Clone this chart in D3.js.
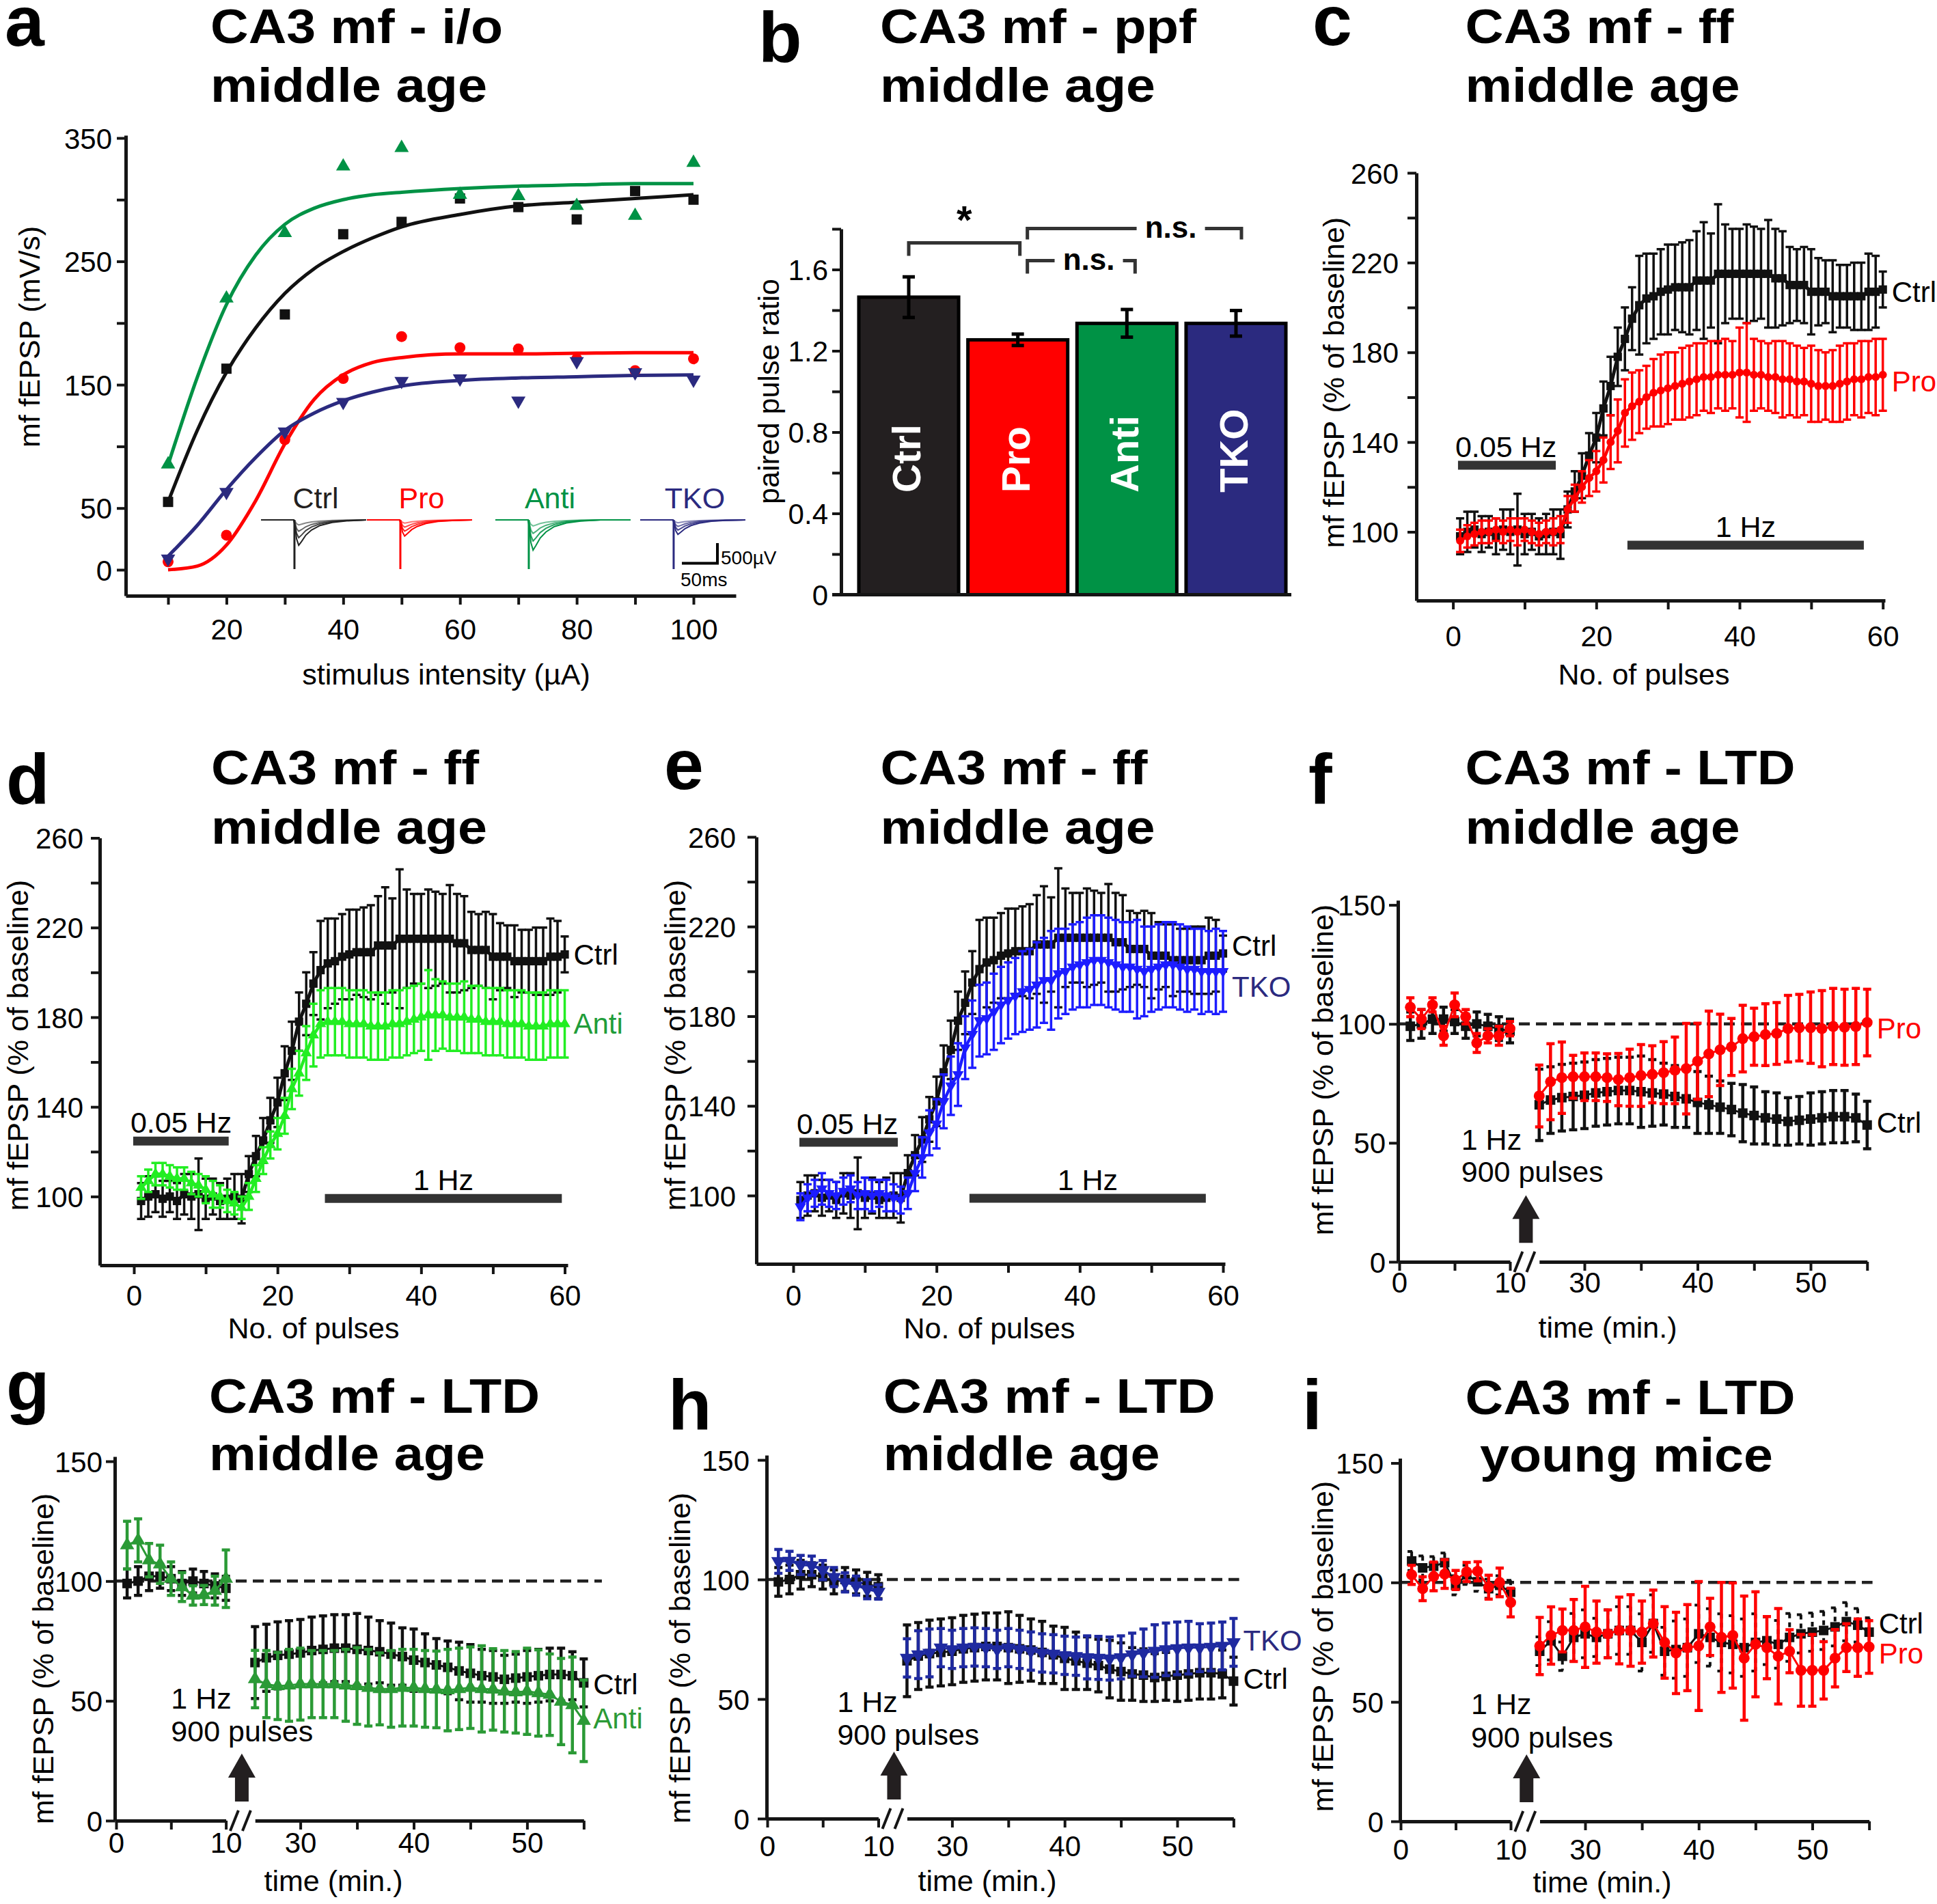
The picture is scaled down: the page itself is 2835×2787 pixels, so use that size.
<!DOCTYPE html>
<html lang="en">
<head>
<meta charset="UTF-8" />
<title>CA3 mossy fibre plasticity</title>
<script src="https://cdn.jsdelivr.net/npm/d3@7"></script>
<style>
  body { margin: 0; background: #fff; }
  svg text { font-family: "Liberation Sans", Arial, Helvetica, sans-serif; }
</style>
</head>
<body>
<div id="figure"></div>
<script>
// ---- a: input / output ----
const ioIntensity = [10, 20, 30, 40, 50, 60, 70, 80, 90, 100];
const ioCtrl = [55, 163, 207, 272, 282, 301, 294, 284, 307, 300];
const ioPro = [6.5, 28, 105.5, 155, 189, 180, 179, 171, 161.5, 171];
const ioAnti = [85.5, 220, 273, 327, 342, 304, 303, 295, 287, 330];
const ioTKO = [9, 63, 112, 136, 153, 155, 137, 169, 160, 154];
// fitted curves
const fitX = [10, 15, 20, 25, 30, 35, 40, 45, 50, 60, 70, 80, 90, 100];
const fitCtrl = [55, 113, 160, 196, 224, 244, 258, 269, 278, 288, 295, 298, 301, 304];
const fitPro = [0, 3, 20, 56, 102, 138, 158, 168, 172, 175, 175, 175.5, 176, 176];
const fitAnti = [85, 156, 215, 255, 280, 293, 300, 304, 306, 309, 311, 312, 313, 313];
const fitTKO = [11, 36, 65, 91, 113, 127, 137, 144, 149, 153.5, 155.5, 156.5, 157.5, 158];
// example traces in the inset
const traceGroups = ["Ctrl", "Pro", "Anti", "TKO"];
const traceDip = [630, 400, 750, 360];      // µV, largest response
const traceArtifact = 1220;                 // µV
const traceSteps = [0.2, 0.45, 0.7, 1];
const traceLen = [148, 148, 190, 148];      // ms
const traceShapeT = [0, 46, 48, 50, 53, 57, 63, 71, 83, 100, 120, 148];
const traceShapeV = [0, 0, 0.3, 0.75, 1, 0.85, 0.6, 0.4, 0.22, 0.1, 0.04, 0];

// ---- b: paired pulse ratio ----
const ppfGroups = ["Ctrl", "Pro", "Anti", "TKO"];
const ppfMean = [1.464, 1.254, 1.335, 1.335];
const ppfSem = [0.10, 0.028, 0.068, 0.063];

// ---- c, d, e: frequency facilitation ----
const pulses = [1,2,3,4,5,6,7,8,9,10,11,12,13,14,15,16,17,18,19,20,21,22,23,24,25,26,27,28,29,30,
  31,32,33,34,35,36,37,38,39,40,41,42,43,44,45,46,47,48,49,50,51,52,53,54,55,56,57,58,59,60];
const ffCtrl = [98,100,101,99,100,98,101,100,101,99, 100,98,99,100,99,110,118,125,134,142,
  155,165,178,186,195,201,204,205,207,208, 209,209,209,212,212,212,215,215,215,215,
  215,215,215,215,213,213,210,210,210,207, 207,207,205,205,205,205,205,207,207,208];
const ffCtrlErr = [8,9,8,8,7,8,9,10,16,9, 8,8,9,10,11,8,9,10,10,11, 12,13,13,14,14,22,20,19,19,20,
  19,20,21,22,26,21,31,22,20,20, 22,21,20,24,22,21,17,16,17,19, 15,14,16,14,14,15,15,17,16,8];
const ffPro = [96,98,99,100,100,101,100,101,100,101, 100,99,100,100,101,110,115,120,124,127,
  132,140,145,153,156,158,160,162,163,164, 165,166,167,168,169,169,170,170,170,171,
  171,170,170,169,169,168,168,167,167,166, 165,165,165,166,167,168,168,169,169,170];
const ffProErr = [5,5,5,5,5,5,5,5,6,5, 5,5,5,6,6,6,6,7,8,9, 10,12,14,15,15,14,14,15,16,16,
  15,16,16,16,15,16,15,16,15,20, 22,16,15,15,16,17,16,16,15,17, 16,15,16,17,17,16,17,16,17,16];
const ffAnti = [104,107,110,110,109,108,108,106,105,103, 101,100,98,97,95,100,108,116,123,128,
  136,148,155,164,172,177,178,178,178,177, 177,177,176,176,176,177,177,178,179,180,
  181,181,181,180,180,180,179,179,178,178, 178,177,177,177,176,176,176,177,177,177];
const ffAntiErr = [5,5,5,5,5,5,5,5,5,6, 6,5,5,5,5,6,6,6,6,7, 8,9,10,12,14,15,15,15,15,15,
  15,15,15,15,15,15,15,15,15,15, 20,16,15,15,15,16,15,15,15,15, 15,15,15,15,15,15,15,15,15,15];
const ffTKO = [95,99,101,103,101,100,102,103,100,101, 100,101,100,99,98,101,110,117,128,132,
  142,149,154,166,172,178,179,182,185,187, 189,191,192,194,196,196,199,200,202,203,
  204,205,205,204,203,202,202,201,200,201, 202,203,203,202,201,201,200,200,200,200];
const ffTKOErr = [6,6,6,7,6,6,6,6,6,7, 7,6,7,6,6,7,8,9,10,11, 12,13,14,14,15,16,16,17,17,17,
  17,18,18,19,19,22,20,19,19,19, 20,20,20,20,20,20,20,22,20,19, 19,19,19,19,19,18,19,18,19,18];

// ---- f, g, h, i: LTD ----
const ltdBaseT = [1,2,3,4,5,6,7,8,9,10];
const ltdPostT = [26,27,28,29,30,31,32,33,34,35,36,37,38,39,40,41,42,43,44,45,46,47,48,49,50,51,52,53,54,55];
const ctrlLtdBase = [99,100,102,102,101,99,100,99,98,97];
const ctrlLtdBaseErr = [6,6,6,5,5,5,5,5,5,5];
const ctrlLtdPost = [66,68,69,69.5,70,71,71.5,72,72,71.5, 71,70.5,69.5,68.5,67,66,65,64,62.5,61.5,
  60.5,60,59,59.5,60,60.5,61,61,60.5,57.5];
const ctrlLtdPostErr = [15,14,14,14,14,14,14,14,14,15, 14,13,13,12,13,12,11,11,12,12, 11,11,10,10,11,11,11,11,10,10];
const proLtdBase = [107,102,108,95,108,103,92,95,95,98];
const proLtdBaseErr = [4,4,3,4,5,3,4,3,4,3];
const proLtdPost = [69.7,75.7,77.4,77.8,77.8,77.8,77.4,76.6,77.4,78.3, 78.8,79.5,80.5,81.2,84.3,87.4,89.1,90.3,93.8,94.6,
  95.5,96,98,98.4,98.4,98,98.9,98.6,98.9,100.6];
const proLtdPostErr = [13,16,15,9,10,10,10,11,12,13, 12,13,14,19,16,18,15,12,14,12, 13,13,14,14,15,16,16,16,16,14];
const antiLtdBase = [115,117,108.7,107,101,97.5,94,94.2,96,101];
const antiLtdBaseErr = [10,9,7,8,7,6,4,4,6,12];
const antiLtdPost = [59.1,57,56.2,56.5,57,57,57,57,56.5,56.2, 55.5,55,55,55.5,55.5,55,54.8,54.5,55,55.5,
  55,54.8,54,53.6,54,53.3,52.6,49.7,48.3,41.7];
const antiLtdPostErr = [12,14,14,15,15,14,14,14,15,16, 16,15,16,16,16,16,16,17,17,17, 18,17,17,17,18,18,17,18,20,17];
const tkoLtdBase = [107.6,107.8,106.1,105.8,103.9,101,98.8,97.4,95.9,94.8];
const tkoLtdBaseErr = [5,4,4,4,4,4,4,4,4,3];
const tkoLtdPost = [67.2,68.6,69.3,71.5,70.8,71.5,71.8,71.5,70.8,71.5, 70.8,70.1,69.3,68.9,68.3,67.9,67.4,67.2,66.9,67.4,
  68.6,69.3,70.1,70.8,71.2,71.5,71.5,71.8,72.2,73.7];
const tkoLtdPostErr = [8,10,10,8,8,8,8,8,8,8, 8,8,8,8,8,8,9,9,9,9, 9,10,11,11,11,11,10,10,10,10];
const ctrlYoungBase = [109,106.1,106.8,108.3,98.8,103.2,100.3,97.4,98.8,95.9];
const ctrlYoungBaseErr = [4,5,4,4,4,4,4,4,4,5];
const ctrlYoungPost = [71.2,75.6,69.1,77,78.5,77,78.5,79.9,79.9,74.9, 82.8,71.2,71.9,72.7,78.5,77,74.9,74.1,72.7,74.9,
  75.6,74.1,77,78.5,79.2,79.9,81.4,83.6,82.1,79.2];
const ctrlYoungPostErr = [6,8,6,10,10,8,10,10,10,12, 12,10,12,12,12,12,12,12,12,12, 10,10,10,8,8,8,8,8,7,6];
const proYoungBase = [103.2,97.4,102.5,103.5,101,104.4,104.7,98,100,91.6];
const proYoungBaseErr = [4,5,6,6,4,4,4,5,6,6];
const proYoungPost = [73.4,77.8,79.9,79.9,81.4,79.2,78.5,79.9,79.9,79.2, 82.8,74.9,70.5,72.7,73.4,81.4,77,77.8,68.3,74.1,
  72.7,69.1,71.2,63.2,63.2,63.2,68.3,72.7,72.7,73];
const proYoungPostErr = [12,12,9,13,17,13,10,14,15,13, 14,15,17,18,27,12,23,22,26,22, 13,20,9,15,15,12,12,10,12,11];

// ---------- drawing ----------
const W = 2835, H = 2787;
const ink = "#151515";
const FONT = '"Liberation Sans", Arial, sans-serif';
const col = {
  ctrl: "#111111", pro: "#ff0000", anti: "#009245", lime: "#22ee22", antiG: "#2b9a36",
  tko: "#2b2a7f", blue: "#1c1cff", tkoH: "#1f2aa0"
};

const svg = d3.select("#figure").append("svg").attr("width", W).attr("height", H);
svg.append("rect").attr("width", W).attr("height", H).attr("fill", "#fff");

function addText(x, y, s, size, o = {}) {
  const t = svg.append("text").attr("x", x).attr("y", y)
    .attr("font-size", size).attr("fill", o.fill || "#000")
    .attr("text-anchor", o.anchor || "start").text(s);
  if (o.bold) t.attr("font-weight", "bold");
  if (o.len) t.attr("textLength", o.len).attr("lengthAdjust", "spacingAndGlyphs");
  if (o.mid) t.attr("dominant-baseline", "central");
  return t;
}
function addVText(cx, cy, s, size) {
  svg.append("text").attr("transform", `translate(${cx},${cy}) rotate(-90)`)
    .attr("text-anchor", "middle").attr("dominant-baseline", "central")
    .attr("font-size", size).text(s);
}
function heading(letter, lx, ly, x, y1, y2, l1, w1, l2, w2, x2) {
  addText(lx, ly, letter, 104, { bold: true });
  addText(x, y1, l1, 70, { bold: true, len: w1 });
  addText(x2 ?? x, y2, l2, 70, { bold: true, len: w2 });
}
function styleAxis(g) {
  g.select(".domain").attr("stroke", ink).attr("stroke-width", 5);
  g.selectAll(".tick line").attr("stroke", ink).attr("stroke-width", 4);
  g.selectAll(".tick text").attr("font-size", 42).attr("fill", "#000").attr("font-family", FONT);
}
function bottomAxis(scale, y, from, to, ticks, fmt, textY) {
  const s = scale.copy().domain([scale.invert(from), scale.invert(to)]).range([from, to]);
  const g = svg.append("g").attr("transform", `translate(0,${y})`)
    .call(d3.axisBottom(s).tickValues(ticks).tickSize(13).tickSizeOuter(0).tickFormat(fmt));
  styleAxis(g);
  g.selectAll(".tick text").attr("y", textY).attr("dy", 0);
}
function leftAxis(scale, x, from, to, ticks, fmt, textX) {
  const s = scale.copy().domain([scale.invert(from), scale.invert(to)]).range([from, to]);
  const g = svg.append("g").attr("transform", `translate(${x},0)`)
    .call(d3.axisLeft(s).tickValues(ticks).tickSize(13).tickSizeOuter(0).tickFormat(fmt));
  styleAxis(g);
  g.selectAll(".tick text").attr("x", -textX).attr("dy", "0.36em");
}
function drawSeries(xs, ys, t, m, e, st) {
  const pts = t.map((v, i) => ({ x: xs(v), y: ys(m[i]), hi: ys(m[i] + e[i]), lo: ys(m[i] - e[i]) }));
  const cap = st.cap || 6;
  const g = svg.append("g");
  g.append("path").attr("d", d3.line().x(d => d.x).y(d => d.y)(pts))
    .attr("fill", "none").attr("stroke", st.color).attr("stroke-width", st.lw || 3);
  g.selectAll(".eb").data(pts).join("path").attr("class", "eb")
    .attr("d", d => `M${d.x},${d.hi}V${d.lo}M${d.x - cap},${d.hi}H${d.x + cap}M${d.x - cap},${d.lo}H${d.x + cap}`)
    .attr("fill", "none").attr("stroke", st.color).attr("stroke-width", st.ebw || 3.5)
    .attr("stroke-dasharray", st.dash || null);
  g.selectAll(".mk").data(pts).join("path").attr("class", "mk")
    .attr("d", d3.symbol().type(st.shape).size(st.size))
    .attr("transform", d => `translate(${d.x},${d.y})${st.flip ? " rotate(180)" : ""}`)
    .attr("fill", st.color);
}

// ================= panel a =================
heading("a", 7, 67, 308, 63, 149, "CA3 mf - i/o", 428, "middle age", 405);
{
  const x = d3.scaleLinear([10, 100], [246, 1015]);
  const y = d3.scaleLinear([0, 350], [834, 202]);
  bottomAxis(x, 872, 184, 1077, ioIntensity, d => d % 20 === 0 ? d : "", 64);
  leftAxis(y, 184, 872, 198, [0, 50, 100, 150, 200, 250, 300, 350], d => (d / 50) % 2 === 1 || d === 0 ? d : "", 20);
  addVText(43, 493, "mf fEPSP (mV/s)", 43);
  addText(653, 1002, "stimulus intensity (µA)", 43, { anchor: "middle" });

  const fits = [[fitAnti, col.anti], [fitCtrl, col.ctrl], [fitPro, col.pro], [fitTKO, col.tko]];
  fits.forEach(([v, c]) => {
    svg.append("path").attr("d", d3.line().curve(d3.curveMonotoneX).x((d, i) => x(fitX[i])).y(d => y(d))(v))
      .attr("fill", "none").attr("stroke", c).attr("stroke-width", 5);
  });
  const sets = [
    [ioCtrl, col.ctrl, d3.symbolSquare, 225, false],
    [ioPro, col.pro, d3.symbolCircle, 200, false],
    [ioAnti, col.anti, d3.symbolTriangle, 190, false],
    [ioTKO, col.tko, d3.symbolTriangle, 190, true]
  ];
  sets.forEach(([v, c, shape, size, flip]) => {
    svg.append("g").selectAll("path").data(v).join("path")
      .attr("d", d3.symbol().type(shape).size(size))
      .attr("transform", (d, i) => `translate(${x(ioIntensity[i])},${y(d)})${flip ? " rotate(180)" : ""}`)
      .attr("fill", c);
  });

  // inset with example traces
  const traceCol = ["#222", col.pro, col.anti, col.tko];
  const spikeX = [432, 587, 775, 987];
  const v = d3.scaleLinear([0, -1000], [761, 820]);
  traceGroups.forEach((name, gi) => {
    const t = d3.scaleLinear([0, 150], [spikeX[gi] - 48 * 1.04, spikeX[gi] + 102 * 1.04]);
    addText(spikeX[gi] + 30, 744, name, 43, { anchor: "middle", fill: gi === 0 ? "#231f20" : traceCol[gi] });
    traceSteps.forEach((k, si) => {
      const pts = traceShapeT.map((tt, i) => [t(tt), v(-traceShapeV[i] * traceDip[gi] * k)]);
      pts.push([t(traceLen[gi]), v(0)]);
      svg.append("path").attr("d", d3.line()(pts)).attr("fill", "none")
        .attr("stroke", traceCol[gi]).attr("stroke-width", 2).attr("opacity", 0.55 + 0.15 * si);
    });
    svg.append("line").attr("x1", t(47)).attr("x2", t(47)).attr("y1", v(0)).attr("y2", v(-traceArtifact))
      .attr("stroke", traceCol[gi]).attr("stroke-width", 3);
  });
  svg.append("path").attr("d", "M998,824.5H1050V795").attr("fill", "none").attr("stroke", "#000").attr("stroke-width", 4);
  addText(1055, 826, "500µV", 28);
  addText(996, 858, "50ms", 28);
}

// ================= panel b =================
heading("b", 1110, 90, 1288, 63, 149, "CA3 mf - ppf", 463, "middle age", 403);
{
  const y = d3.scaleLinear([0, 1.8], [870.5, 335]);
  const x = d3.scaleBand(ppfGroups, [1249, 1890]).paddingInner(0.085).paddingOuter(0.05);
  const barCol = ["#231f20", col.pro, col.anti, col.tko];
  svg.append("g").selectAll("rect").data(ppfMean).join("rect")
    .attr("x", (d, i) => x(ppfGroups[i])).attr("width", x.bandwidth())
    .attr("y", d => y(d)).attr("height", d => y(0) - y(d))
    .attr("fill", (d, i) => barCol[i]).attr("stroke", "#000").attr("stroke-width", 5);
  svg.append("g").selectAll("path").data(ppfMean).join("path")
    .attr("d", (d, i) => {
      const cx = x(ppfGroups[i]) + x.bandwidth() / 2, hi = y(d + ppfSem[i]), lo = y(d - ppfSem[i]);
      return `M${cx},${hi}V${lo}M${cx - 9},${hi}H${cx + 9}M${cx - 9},${lo}H${cx + 9}`;
    })
    .attr("stroke", "#000").attr("stroke-width", 5).attr("fill", "none");
  ppfGroups.forEach(gn => {
    svg.append("text").attr("transform", `translate(${x(gn) + x.bandwidth() / 2 + 17},721) rotate(-90)`)
      .attr("font-size", 58).attr("font-weight", "bold").attr("fill", "#fff").text(gn);
  });
  leftAxis(y, 1231, 870.5, 335, [0, 0.2, 0.4, 0.6, 0.8, 1.0, 1.2, 1.4, 1.6, 1.8],
    d => Math.round(d * 10) % 4 === 0 ? (d === 0 ? "0" : d.toFixed(1)) : "", 19);
  svg.append("line").attr("x1", 1218).attr("x2", 1890).attr("y1", 870.5).attr("y2", 870.5)
    .attr("stroke", ink).attr("stroke-width", 5);
  addVText(1125, 573, "paired pulse ratio", 43);

  const c = g => x(g) + x.bandwidth() / 2;
  const brackets = [
    { a: c("Ctrl"), b: c("Pro") + 3, top: 1.731, foot: 1.667, label: "*", at: 0.5 },
    { a: c("Pro") + 14, b: c("Anti") + 12, top: 1.644, foot: 1.58, label: "n.s.", at: 0.57 },
    { a: c("Pro") + 14, b: c("TKO") + 8, top: 1.802, foot: 1.748, label: "n.s.", at: 0.67 }
  ];
  brackets.forEach(br => {
    svg.append("path").attr("d", `M${br.a},${y(br.foot)}V${y(br.top)}H${br.b}V${y(br.foot)}`)
      .attr("fill", "none").attr("stroke", "#333").attr("stroke-width", 5);
    const lx = br.a + (br.b - br.a) * br.at;
    if (br.label === "*") {
      addText(lx, y(br.top) - 14, "*", 58, { bold: true, anchor: "middle" });
    } else {
      svg.append("rect").attr("x", lx - 50).attr("y", y(br.top) - 8).attr("width", 100).attr("height", 16).attr("fill", "#fff");
      addText(lx, y(br.top) + 14, "n.s.", 44, { bold: true, anchor: "middle" });
    }
  });
}

// ================= panels c, d, e =================
const ffTicksY = [100, 120, 140, 160, 180, 200, 220, 240, 260];
const ffTicksX = [0, 10, 20, 30, 40, 50, 60];
function ffPanel(p) {
  const x = d3.scaleLinear([0, 60], [p.x0, p.x60]);
  const y = d3.scaleLinear([100, 260], [p.y100, p.y260]);
  bottomAxis(x, p.axisY, p.axisX, p.axisRight, ffTicksX, d => d % 20 === 0 ? d : "", p.xTextY);
  leftAxis(y, p.axisX, p.axisY, p.y260, ffTicksY, d => (d - 100) % 40 === 0 ? d : "", p.yTextX);
  addVText(p.ylab[0], p.ylab[1], "mf fEPSP (% of baseline)", 43);
  addText(p.xlab[0], p.xlab[1], "No. of pulses", 43, { anchor: "middle" });
  p.stim.forEach(s => {
    svg.append("line").attr("x1", x(s.from)).attr("x2", x(s.to)).attr("y1", y(s.level)).attr("y2", y(s.level))
      .attr("stroke", "#333").attr("stroke-width", 13);
    const tx = s.anchor === "start" ? x(s.from) - 4 : (x(s.from) + x(s.to)) / 2;
    addText(tx, y(s.level) - 12, s.label, 43, { anchor: s.anchor });
  });
  p.series.forEach(s => drawSeries(x, y, pulses, s.m, s.e, s.st));
  p.labels.forEach(l => addText(x(60) + 13, y(l.v), l.t, 42, { fill: l.c, mid: true }));
}
const stCtrlFF = { color: col.ctrl, shape: d3.symbolSquare, size: 150, lw: 5 };

heading("c", 1921, 66, 2144.5, 63, 149, "CA3 mf - ff", 393, "middle age", 402);
ffPanel({
  x0: 2126.6, x60: 2755.7, y100: 778.5, y260: 253, axisX: 2073, axisY: 879, axisRight: 2759,
  xTextY: 67, yTextX: 26, ylab: [1952, 560], xlab: [2406, 1002],
  stim: [{ label: "0.05 Hz", from: 0.7, to: 14.35, level: 129.7, anchor: "start" },
         { label: "1 Hz", from: 24.35, to: 57.35, level: 94.1, anchor: "middle" }],
  series: [{ m: ffCtrl, e: ffCtrlErr, st: stCtrlFF },
           { m: ffPro, e: ffProErr, st: { color: col.pro, shape: d3.symbolCircle, size: 110, lw: 4.5 } }],
  labels: [{ t: "Ctrl", v: 207, c: "#000" }, { t: "Pro", v: 167, c: col.pro }]
});

heading("d", 9, 1176, 309, 1148, 1235, "CA3 mf - ff", 392, "middle age", 404);
ffPanel({
  x0: 196, x60: 826.5, y100: 1751.4, y260: 1226.5, axisX: 146, axisY: 1852, axisRight: 831,
  xTextY: 59, yTextX: 24, ylab: [26, 1530], xlab: [459, 1959],
  stim: [{ label: "0.05 Hz", from: -0.1, to: 13.2, level: 124.7, anchor: "start" },
         { label: "1 Hz", from: 26.6, to: 59.6, level: 99.1, anchor: "middle" }],
  series: [{ m: ffCtrl, e: ffCtrlErr, st: stCtrlFF },
           { m: ffAnti, e: ffAntiErr, st: { color: col.lime, shape: d3.symbolTriangle, size: 120, lw: 4.5 } }],
  labels: [{ t: "Ctrl", v: 208, c: "#000" }, { t: "Anti", v: 177, c: "#1f9d3a" }]
});

heading("e", 972, 1155, 1288.5, 1148, 1235, "CA3 mf - ff", 391, "middle age", 402);
ffPanel({
  x0: 1161, x60: 1790, y100: 1750, y260: 1225, axisX: 1107, axisY: 1850, axisRight: 1793,
  xTextY: 61, yTextX: 30, ylab: [988, 1530], xlab: [1448, 1959],
  stim: [{ label: "0.05 Hz", from: 0.86, to: 14.6, level: 123.8, anchor: "start" },
         { label: "1 Hz", from: 24.6, to: 57.6, level: 98.8, anchor: "middle" }],
  series: [{ m: ffCtrl, e: ffCtrlErr, st: stCtrlFF },
           { m: ffTKO, e: ffTKOErr, st: { color: col.blue, shape: d3.symbolTriangle, size: 120, flip: true, lw: 4.5 } }],
  labels: [{ t: "Ctrl", v: 211.4, c: "#000" }, { t: "TKO", v: 193, c: col.tko }]
});

// ================= panels f, g, h, i =================
function ltdPanel(p) {
  const s1 = d3.scaleLinear([0, 10], [p.x0, p.x10]);
  const s2 = d3.scaleLinear([30, 50], [p.x30, p.x50]);
  const y = d3.scaleLinear([0, 150], [p.y0, p.y150]);
  svg.append("line").attr("x1", s1(0)).attr("x2", s2(p.dashEnd)).attr("y1", y(100)).attr("y2", y(100))
    .attr("stroke", "#222").attr("stroke-width", 4.5).attr("stroke-dasharray", "16 9");
  bottomAxis(s1, p.y0, p.yAxisX, s1(10), [0, 5, 10], d => d % 10 === 0 ? d : "", p.xTextY);
  bottomAxis(s2, p.y0, s2(26), s2(55), [30, 35, 40, 45, 50, 55], d => d % 10 === 0 ? d : "", p.xTextY);
  leftAxis(y, p.yAxisX, p.y0, y(152), [0, 50, 100, 150], d => d, p.yTextX);
  const gx = (s1(10) + s2(26)) / 2;
  [-9, 9].forEach(o => svg.append("line").attr("x1", gx + o - 6).attr("y1", p.y0 + 15)
    .attr("x2", gx + o + 6).attr("y2", p.y0 - 15).attr("stroke", ink).attr("stroke-width", 4));
  const ax = gx + 2;
  svg.append("path").attr("d",
    `M${ax},${y(28)}L${ax + 20},${y(18)}H${ax + 10}V${y(8)}H${ax - 10}V${y(18)}H${ax - 20}Z`)
    .attr("fill", "#231f20");
  addText(s1(p.textT), y(p.textY[0]), "1 Hz", 43);
  addText(s1(p.textT), y(p.textY[1]), "900 pulses", 43);
  addVText(p.ylab[0], p.ylab[1], "mf fEPSP (% of baseline)", 43);
  addText(p.xlab[0], p.xlab[1], "time (min.)", 43, { anchor: "middle" });
  p.series.forEach(s => {
    drawSeries(s1, y, ltdBaseT, s.base, s.baseErr, s.st);
    drawSeries(s2, y, ltdPostT, s.post, s.postErr, s.st);
  });
  p.labels.forEach(l => addText(s2(55) + 14, y(l.v) + (l.dy || 0), l.t, 42, { fill: l.c, mid: true }));
}
const ctrlLtd = { base: ctrlLtdBase, baseErr: ctrlLtdBaseErr, post: ctrlLtdPost, postErr: ctrlLtdPostErr,
  st: { color: col.ctrl, shape: d3.symbolSquare, size: 196, ebw: 4.5 } };

heading("f", 1915, 1176, 2144.5, 1148, 1235, "CA3 mf - LTD", 483, "middle age", 402);
ltdPanel({
  x0: 2048, x10: 2210, x30: 2319, x50: 2650, y0: 1847, y150: 1324.6, yAxisX: 2046,
  xTextY: 45, yTextX: 18, dashEnd: 55.2, textT: 5.6, textY: [47.2, 33.6],
  ylab: [1936, 1566], xlab: [2353, 1958],
  series: [ctrlLtd, { base: proLtdBase, baseErr: proLtdBaseErr, post: proLtdPost, postErr: proLtdPostErr,
    st: { color: col.pro, shape: d3.symbolCircle, size: 200, ebw: 4.5 } }],
  labels: [{ t: "Pro", v: 98, c: col.pro }, { t: "Ctrl", v: 58.4, c: "#000" }]
});

heading("g", 9, 2064, 306, 2068, 2152, "CA3 mf - LTD", 484, "middle age", 404);
ltdPanel({
  x0: 170, x10: 330.6, x30: 439.6, x50: 771.4, y0: 2665, y150: 2139, yAxisX: 168,
  xTextY: 47, yTextX: 18, dashEnd: 56.6, textT: 5.0, textY: [46.8, 33],
  ylab: [63, 2428], xlab: [488, 2768],
  series: [ctrlLtd, { base: antiLtdBase, baseErr: antiLtdBaseErr, post: antiLtdPost, postErr: antiLtdPostErr,
    st: { color: col.antiG, shape: d3.symbolTriangle, size: 190, ebw: 4.5 } }],
  labels: [{ t: "Ctrl", v: 57, c: "#000" }, { t: "Anti", v: 42.5, c: col.antiG }]
});

heading("h", 978, 2092, 1292.7, 2068, 2152, "CA3 mf - LTD", 486, "middle age", 405);
ltdPanel({
  x0: 1123, x10: 1285.5, x30: 1393.4, x50: 1723, y0: 2662, y150: 2137, yAxisX: 1122,
  xTextY: 55, yTextX: 25, dashEnd: 55.5, textT: 6.3, textY: [44.6, 30.9],
  ylab: [995, 2427], xlab: [1445, 2768],
  series: [ctrlLtd, { base: tkoLtdBase, baseErr: tkoLtdBaseErr, post: tkoLtdPost, postErr: tkoLtdPostErr,
    st: { color: col.tkoH, shape: d3.symbolTriangle, size: 190, flip: true, ebw: 4.5 } }],
  labels: [{ t: "TKO", v: 74.3, c: col.tko }, { t: "Ctrl", v: 58.3, c: "#000" }]
});

heading("i", 1906, 2092, 2144.5, 2070, 2154, "CA3 mf - LTD", 483, "young mice", 429, 2166);
ltdPanel({
  x0: 2050, x10: 2211, x30: 2320, x50: 2652.5, y0: 2666, y150: 2141.5, yAxisX: 2049,
  xTextY: 56, yTextX: 24, dashEnd: 55.3, textT: 6.4, textY: [45, 30.9],
  ylab: [1936, 2410], xlab: [2345, 2770],
  series: [{ base: ctrlYoungBase, baseErr: ctrlYoungBaseErr, post: ctrlYoungPost, postErr: ctrlYoungPostErr,
    st: { color: col.ctrl, shape: d3.symbolSquare, size: 196, ebw: 4, dash: "7 6" } },
    { base: proYoungBase, baseErr: proYoungBaseErr, post: proYoungPost, postErr: proYoungPostErr,
    st: { color: col.pro, shape: d3.symbolCircle, size: 200, ebw: 4.5 } }],
  labels: [{ t: "Ctrl", v: 82, c: "#000", dy: -3 }, { t: "Pro", v: 71.2, c: col.pro, dy: 3 }]
});
</script>
</body>
</html>
